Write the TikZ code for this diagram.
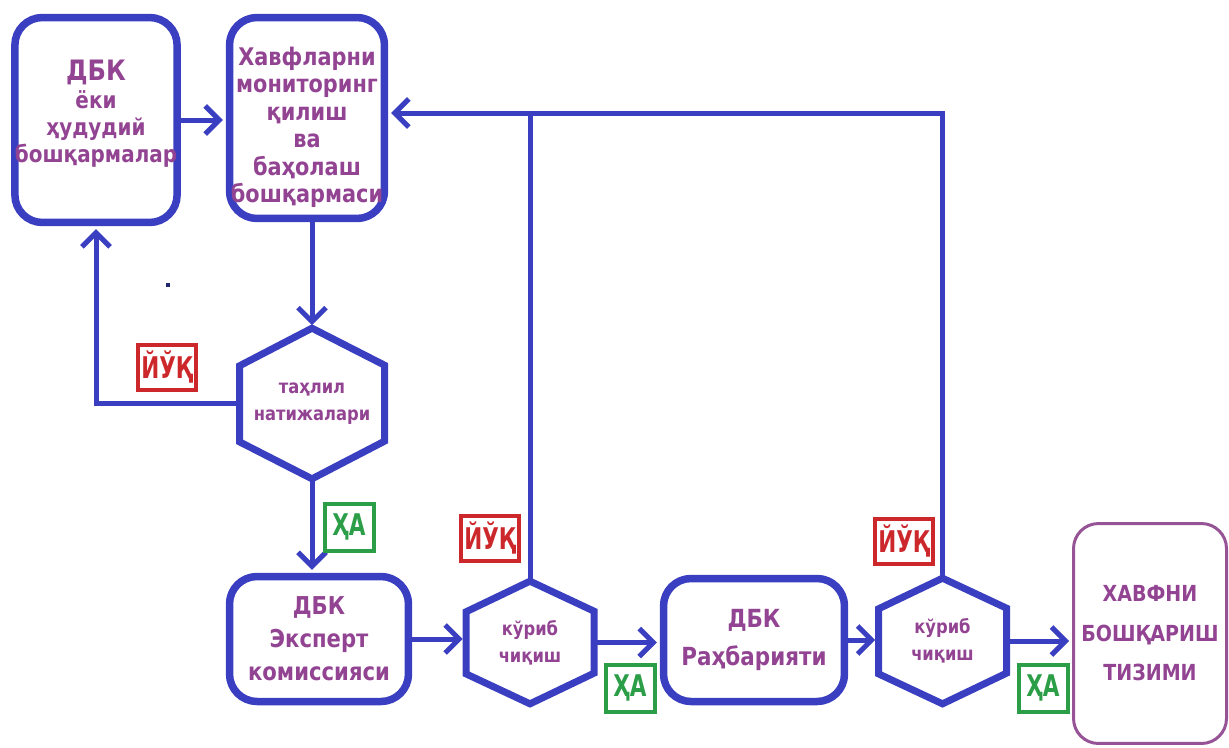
\documentclass[tikz,border=0pt]{standalone}
\usepackage{fontspec}
\setmainfont{DejaVu Sans}[FakeStretch=0.86]
\newfontfamily\lblfont{DejaVu Sans}[FakeStretch=0.72]
\usepackage{tikz}
\usetikzlibrary{arrows.meta}
\definecolor{flowblue}{RGB}{58,62,192}
\definecolor{textpurple}{RGB}{146,68,146}
\definecolor{sysborder}{RGB}{150,84,150}
\definecolor{nored}{RGB}{204,40,44}
\definecolor{yesgreen}{RGB}{44,158,72}
% hexagon: name, x, y, half width, half height, shoulder drop, text
\newcommand{\hexbox}[7]{%
  \node[hextext,minimum width=#4*0.04cm,minimum height=#5*0.04cm] (#1) at (#2,#3) {#7};
  \draw[hexline] (#1.north) -- ++(#4,#6) -- ++(0,2*#5-2*#6) -- (#1.south) -- ++(-#4,-#6) -- ++(0,-2*#5+2*#6) -- cycle;
}
\begin{document}
\begin{tikzpicture}[x=0.02cm,y=-0.02cm,
  unitbox/.style={draw=flowblue,line width=0.15cm,rounded corners=0.55cm,text=textpurple,align=center,inner sep=0pt},
  hextext/.style={text=textpurple,align=center,inner sep=0pt,font=\bfseries\fontsize{10.8}{15.5}\selectfont},
  hexline/.style={draw=flowblue,line width=0.14cm},
  flow/.style={draw=flowblue,line width=0.1cm},
  arr/.style={flow,shorten >=0.06cm,-{Straight Barb[length=0.28cm,width=0.56cm]}},
  nolbl/.style={draw=nored,line width=0.08cm,text=nored,minimum width=1.16cm,minimum height=0.9cm,inner sep=0pt,font=\lblfont\bfseries\fontsize{17}{17}\selectfont},
  yeslbl/.style={draw=yesgreen,line width=0.08cm,text=yesgreen,minimum width=0.98cm,minimum height=0.94cm,inner sep=0pt,font=\lblfont\bfseries\fontsize{17}{17}\selectfont}]
\useasboundingbox (0,0) rectangle (1229,747);

% boxes
\node[unitbox,minimum width=3.22cm,minimum height=4.10cm,font=\bfseries\fontsize{13.2}{15.5}\selectfont] (dbk) at (96,120) {{\fontsize{16}{16}\selectfont ДБК}\\ёки\\ҳудудий\\бошқармалар\\[-5.7pt]};
\node[unitbox,minimum width=3.10cm,minimum height=4.02cm,font=\bfseries\fontsize{13.8}{15.6}\selectfont] (monit) at (307,118) {\strut\\[-5.4pt]Хавфларни\\мониторинг\\қилиш\\ва\\баҳолаш\\бошқармаси};
\node[unitbox,minimum width=3.58cm,minimum height=2.50cm,font=\bfseries\fontsize{14}{18.8}\selectfont] (expert) at (319,639) {ДБК\\Эксперт\\комиссияси};
\node[unitbox,minimum width=3.62cm,minimum height=2.46cm,font=\bfseries\fontsize{14.2}{21.5}\selectfont] (rahbar) at (754,640) {ДБК\\Раҳбарияти};
\node[unitbox,draw=sysborder,line width=0.06cm,rounded corners=0.5cm,minimum width=3.06cm,minimum height=4.40cm,font=\bfseries\fontsize{12.6}{22.5}\selectfont] (tizim) at (1150,633.5) {ХАВФНИ\\БОШҚАРИШ\\ТИЗИМИ};

% hexagons
\hexbox{tahlil}{312}{403.5}{72.5}{75}{37}{таҳлил\\натижалари}
\hexbox{kurib1}{530}{642.5}{64}{61}{30}{кўриб\\чиқиш}
\hexbox{kurib2}{942.5}{641}{64}{62.5}{30}{кўриб\\чиқиш}

% connectors
\coordinate (back) at ([yshift=0.1cm]monit.east);
\draw[arr] (dbk.east) -- (dbk.east -| monit.west);
\draw[arr] (monit.south -| tahlil.north) -- (tahlil.north);
\draw[arr] (tahlil.west) -| (dbk.south);
\draw[arr] (tahlil.south) -- (tahlil.south |- expert.north);
\draw[arr] (expert.east) -- (expert.east -| kurib1.west);
\draw[arr] (kurib1.east) -- (kurib1.east -| rahbar.west);
\draw[arr] (rahbar.east) -- (rahbar.east -| kurib2.west);
\draw[arr] (kurib2.east) -- (kurib2.east -| tizim.west);
\draw[arr] (kurib2.north) |- (back);
\draw[flow] (kurib1.north) -- (kurib1.north |- back);

% answers
\node[nolbl] (no1) at (167,367) {ЙЎҚ};
\node[yeslbl] (yes1) at (349,527) {ҲА};
\node[nolbl] (no2) at (490,538) {ЙЎҚ};
\node[yeslbl] (yes2) at (630,688) {ҲА};
\node[nolbl] (no3) at (904,541) {ЙЎҚ};
\node[yeslbl] (yes3) at (1043,688) {ҲА};

\fill[flowblue!60!black] (166,283) rectangle (170,287);
\end{tikzpicture}
\end{document}
